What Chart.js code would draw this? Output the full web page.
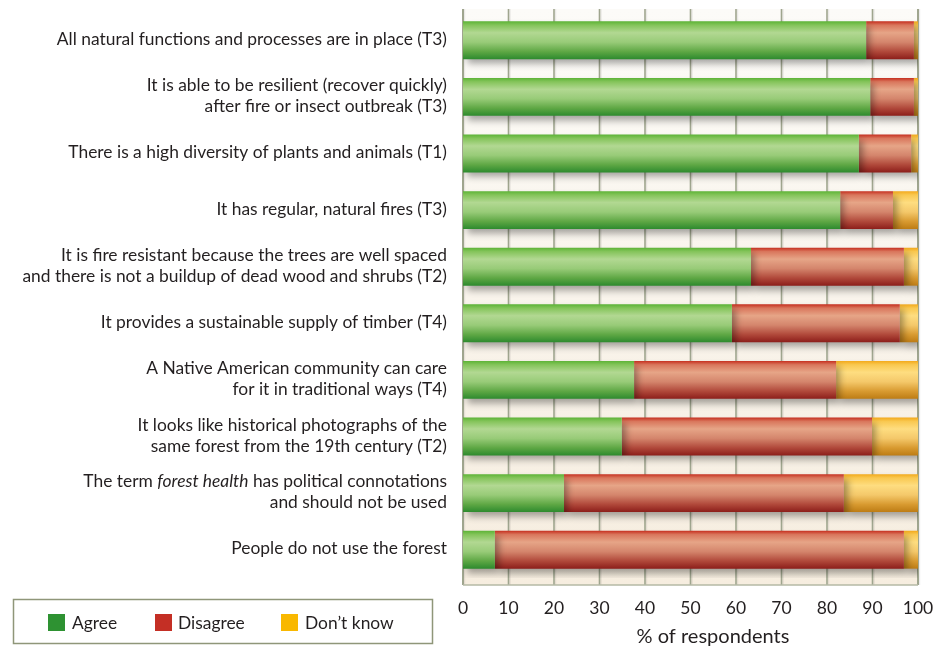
<!DOCTYPE html>
<html>
<head>
<meta charset="utf-8">
<script src="https://cdn.jsdelivr.net/npm/chart.js@4/dist/chart.umd.min.js"></script>
<style>
  body { margin: 0; background: #fff; }
  canvas { display: block; }
</style>
</head>
<body>
<canvas id="myChart" width="941" height="647"></canvas>
<script>
// statements (y categories), *...* marks italic text
const labels = [
  ['All natural functions and processes are in place (T3)'],
  ['It is able to be resilient (recover quickly)', 'after fire or insect outbreak (T3)'],
  ['There is a high diversity of plants and animals (T1)'],
  ['It has regular, natural fires (T3)'],
  ['It is fire resistant because the trees are well spaced', 'and there is not a buildup of dead wood and shrubs (T2)'],
  ['It provides a sustainable supply of timber (T4)'],
  ['A Native American community can care', 'for it in traditional ways (T4)'],
  ['It looks like historical photographs of the', 'same forest from the 19th century (T2)'],
  ['The term *forest health* has political connotations', 'and should not be used'],
  ['People do not use the forest']
];

// % of respondents
const agree    = [88.6, 89.5, 87.0, 82.9, 63.3, 59.1, 37.6, 34.9, 22.2, 7.0];
const disagree = [10.5, 9.6, 11.5, 11.6, 33.6, 36.9, 44.4, 55.0, 61.5, 89.9];
const dontKnow = [0.9, 0.9, 1.5, 5.5, 3.1, 4.0, 18.0, 10.1, 16.3, 3.1];

const xTicks = [0, 10, 20, 30, 40, 50, 60, 70, 80, 90, 100];

const FONT = 'Lato, "Open Sans", sans-serif';
const TEXT = '#231f20';
const BAR_PCT = 0.67;

// vertical gradient per bar
function barGradient(stops) {
  return function (c) {
    const chart = c.chart;
    const area = chart.chartArea;
    if (!area) return stops[2][1];
    const step = (area.bottom - area.top) / labels.length;
    const cy = chart.scales.y.getPixelForValue(c.dataIndex);
    const h = step * BAR_PCT;
    const g = chart.ctx.createLinearGradient(0, cy - h / 2, 0, cy + h / 2);
    stops.forEach(s => g.addColorStop(s[0], s[1]));
    return g;
  };
}

const greenStops  = [[0, '#5cb336'], [0.1, '#84c45a'], [0.3, '#b2d892'], [0.55, '#98cb78'], [0.8, '#5ea744'], [1, '#2d8a2e']];
const redStops    = [[0, '#c62f1f'], [0.1, '#d9765c'], [0.3, '#e6a587'], [0.55, '#d4856c'], [0.8, '#b0483a'], [1, '#8c1e1a']];
const yellowStops = [[0, '#f3a91a'], [0.1, '#f9c850'], [0.3, '#fedd80'], [0.55, '#f4c86a'], [0.8, '#d89a30'], [1, '#bd7c14']];

const legendItems = [
  { text: 'Agree', color: '#2e9232', box: 48, tx: 72 },
  { text: 'Disagree', color: '#c42f25', box: 155, tx: 178 },
  { text: 'Don\u2019t know', color: '#f9b800', box: 281, tx: 305 }
];

const framePlugin = {
  id: 'frame',
  beforeDatasetsDraw(chart) {
    const ctx = chart.ctx;
    const a = chart.chartArea;
    const xs = chart.scales.x;
    const top = a.top - 3, bottom = a.bottom + 7;
    ctx.save();
    const bg = ctx.createLinearGradient(0, top, 0, bottom);
    bg.addColorStop(0, '#fcfbf8');
    bg.addColorStop(1, '#f6eddf');
    ctx.fillStyle = bg;
    ctx.fillRect(a.left, top, a.right - a.left, bottom - top);
    // grid lines
    xTicks.forEach(v => {
      const px = xs.getPixelForValue(v);
      ctx.strokeStyle = 'rgba(0,0,0,0.07)';
      ctx.lineWidth = 1.5;
      ctx.beginPath(); ctx.moveTo(px + 1.5, top); ctx.lineTo(px + 1.5, bottom); ctx.stroke();
      ctx.strokeStyle = '#9fa58e';
      ctx.lineWidth = (v === 0 || v === 100) ? 2 : 1.6;
      ctx.beginPath(); ctx.moveTo(px, top); ctx.lineTo(px, bottom); ctx.stroke();
    });
    ctx.strokeStyle = '#b4b8a4';
    ctx.lineWidth = 1.5;
    ctx.beginPath(); ctx.moveTo(a.left, bottom); ctx.lineTo(a.right, bottom); ctx.stroke();
    ctx.restore();

    // shadow under the bars
    ctx.save();
    ctx.shadowColor = 'rgba(0,0,0,0.35)';
    ctx.shadowBlur = 7;
    ctx.shadowOffsetX = 4;
    ctx.shadowOffsetY = 5;
  },
  afterDatasetsDraw(chart) {
    chart.ctx.restore();
  },
  afterDraw(chart) {
    const ctx = chart.ctx;
    const ys = chart.scales.y;
    ctx.save();
    ctx.fillStyle = TEXT;
    ctx.textBaseline = 'middle';
    ctx.textAlign = 'left';
    // statement labels, right aligned, with italic parts
    labels.forEach((lines, i) => {
      const cy = ys.getPixelForValue(i);
      lines.forEach((line, j) => {
        const y = cy + (j - (lines.length - 1) / 2) * 21 - 1;
        const parts = line.split('*');
        let w = 0;
        parts.forEach((p, k) => {
          ctx.font = (k % 2 ? 'italic ' : '') + '17.4px ' + FONT;
          w += ctx.measureText(p).width;
        });
        let x = 447 - w;
        parts.forEach((p, k) => {
          ctx.font = (k % 2 ? 'italic ' : '') + '17.4px ' + FONT;
          ctx.fillText(p, x, y);
          x += ctx.measureText(p).width;
        });
      });
    });

    // axis title
    ctx.font = '20px ' + FONT;
    ctx.textAlign = 'center';
    ctx.fillText('% of respondents', 713, 637);

    // legend box
    ctx.strokeStyle = '#8f9679';
    ctx.lineWidth = 1.5;
    ctx.strokeRect(13.5, 599.5, 419, 44);
    ctx.textAlign = 'left';
    ctx.font = '17.4px ' + FONT;
    legendItems.forEach(it => {
      ctx.fillStyle = it.color;
      ctx.fillRect(it.box, 614, 17, 17);
      ctx.fillStyle = TEXT;
      ctx.fillText(it.text, it.tx, 623);
    });
    ctx.restore();
  }
};

new Chart(document.getElementById('myChart').getContext('2d'), {
  type: 'bar',
  data: {
    labels: labels,
    datasets: [
      { label: 'Agree', data: agree, backgroundColor: barGradient(greenStops) },
      { label: 'Disagree', data: disagree, backgroundColor: barGradient(redStops) },
      { label: 'Don\u2019t know', data: dontKnow, backgroundColor: barGradient(yellowStops) }
    ]
  },
  options: {
    indexAxis: 'y',
    responsive: false,
    animation: false,
    layout: { padding: { top: 12, right: 23, left: 0, bottom: 0 } },
    datasets: { bar: { barPercentage: BAR_PCT, categoryPercentage: 1, borderWidth: 0 } },
    plugins: { legend: { display: false }, tooltip: { enabled: false } },
    scales: {
      x: {
        type: 'linear',
        stacked: true,
        min: 0,
        max: 100,
        afterBuildTicks: s => { s.ticks = xTicks.map(v => ({ value: v })); },
        afterFit: s => { s.height = 69; s.paddingLeft = 0; s.paddingRight = 0; },
        grid: { display: false, drawTicks: false },
        border: { display: false },
        ticks: { color: TEXT, font: { family: FONT, size: 17.5 }, padding: 20 }
      },
      y: {
        stacked: true,
        afterFit: s => { s.width = 463; },
        grid: { display: false },
        border: { display: false },
        ticks: { display: false }
      }
    }
  },
  plugins: [framePlugin]
});
</script>
</body>
</html>
